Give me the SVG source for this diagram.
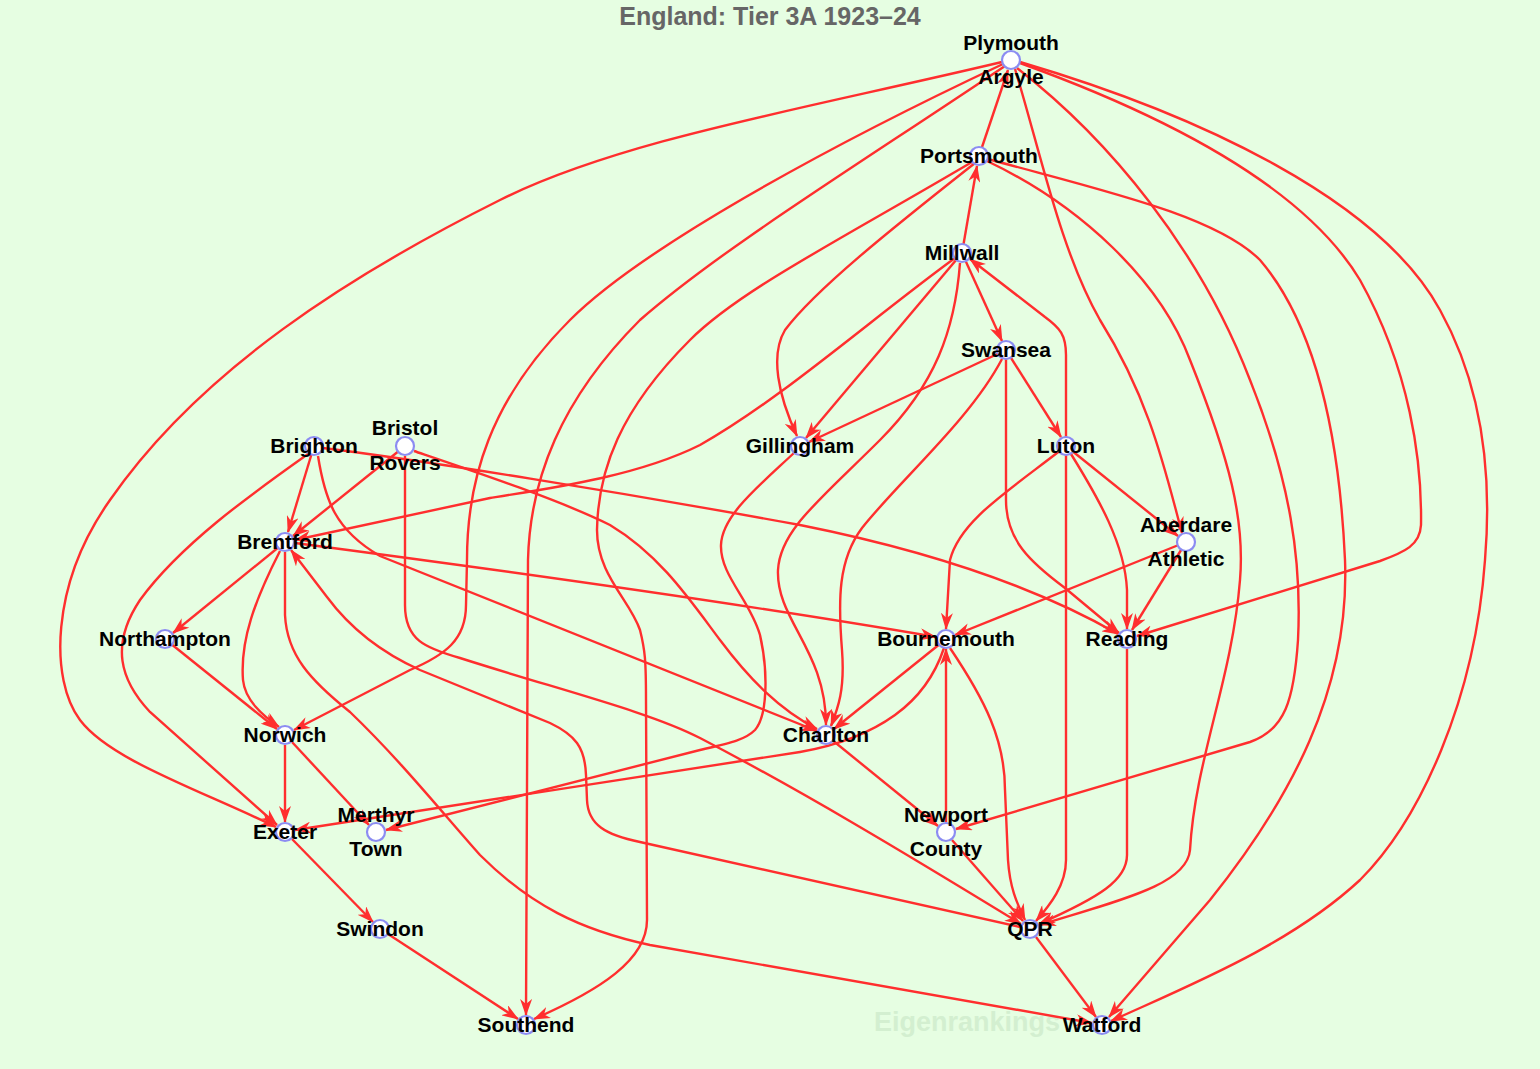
<svg xmlns="http://www.w3.org/2000/svg" width="1540" height="1069" viewBox="0 0 1540 1069">
<defs>
<style>
.e{fill:none;stroke:#ff2e2e;stroke-width:2.4;marker-end:url(#ah)}
.n{fill:#ffffff;stroke:#8c8cf2;stroke-width:2.2}
.l{font-family:"Liberation Sans",Arial,sans-serif;font-weight:bold;font-size:21px;fill:#000;text-anchor:middle}
.t{font-family:"Liberation Sans",Arial,sans-serif;font-weight:bold;font-size:25px;fill:#666;text-anchor:middle}
.w{font-family:"Liberation Sans",Arial,sans-serif;font-weight:bold;font-size:27px;fill:#d3efd0}
</style>
<marker id="ah" markerUnits="userSpaceOnUse" markerWidth="17" markerHeight="12" refX="16" refY="6" orient="auto">
<path d="M0,0 L17,6 L0,12 L5,6 z" fill="#ff2e2e"/>
</marker>
</defs>
<rect x="0" y="0" width="1540" height="1069" fill="#e6fee2"/>
<text class="t" x="770" y="25">England: Tier 3A 1923–24</text>
<text class="w" x="874" y="1031">Eigenrankings</text>
<g id="edges">
<path class="e" d="M979,156 L1008,70"/>
<path class="e" d="M962,253 L977,166"/>
<path class="e" d="M962,253 L1002,341"/>
<path class="e" d="M1066,437 L1066,355 C1066,335 1060,328 1045,317 L970,259"/>
<path class="e" d="M1006,350 L1061,437"/>
<path class="e" d="M1006,350 L809,442"/>
<path class="e" d="M962,253 L806,438"/>
<path class="e" d="M975,163 C890,230 815,290 785,330 C770,355 778,395 797,436"/>
<path class="e" d="M1066,446 C1010,490 960,520 950,560 L946,629"/>
<path class="e" d="M1066,446 L1178,536"/>
<path class="e" d="M1066,446 C1100,500 1125,545 1127,590 L1127,629"/>
<path class="e" d="M1066,446 L1066,860 C1066,885 1050,905 1036,921"/>
<path class="e" d="M1186,542 L1132,630"/>
<path class="e" d="M1186,542 L955,635"/>
<path class="e" d="M1006,350 L1006,500 C1006,540 1030,562 1065,588 L1119,633"/>
<path class="e" d="M1015,69 C1040,150 1060,250 1100,320 C1150,400 1165,470 1182,533"/>
<path class="e" d="M1020,63 C1150,110 1300,180 1360,280 C1410,370 1422,460 1421,525 C1420,545 1405,552 1380,561 L1137,636"/>
<path class="e" d="M1020,62 C1200,115 1380,200 1440,310 C1490,400 1490,500 1485,560 C1475,700 1420,820 1360,880 C1290,945 1190,985 1111,1021"/>
<path class="e" d="M988,159 C1100,190 1215,215 1260,260 C1320,330 1340,450 1345,560 C1350,690 1290,800 1210,900 L1109,1017"/>
<path class="e" d="M1017,68 C1110,140 1200,250 1250,380 C1290,480 1302,560 1298,640 C1294,700 1285,730 1250,742 L956,829"/>
<path class="e" d="M987,161 C1080,205 1160,280 1190,360 C1230,460 1245,520 1240,580 C1232,680 1195,760 1190,850 C1187,885 1120,900 1040,925"/>
<path class="e" d="M950,648 C985,700 1005,740 1005,790 L1008,860 C1010,890 1018,905 1025,920"/>
<path class="e" d="M952,840 L1023,921"/>
<path class="e" d="M826,735 L938,826"/>
<path class="e" d="M946,822 L946,649"/>
<path class="e" d="M946,639 L834,729"/>
<path class="e" d="M944,648 C935,675 920,697 895,715 C870,733 840,745 800,752 L295,830"/>
<path class="e" d="M960,263 C955,330 935,385 880,440 C820,500 780,530 778,570 C776,620 826,650 826,725"/>
<path class="e" d="M1002,359 C970,420 900,480 862,528 C838,560 838,600 842,650 C845,690 838,708 831,726"/>
<path class="e" d="M318,456 C325,500 335,530 380,556 L817,731"/>
<path class="e" d="M414,451 C470,470 560,500 610,525 C660,555 690,600 720,640 C750,680 780,710 817,729"/>
<path class="e" d="M323,448 C420,460 620,492 800,525 C950,555 1050,595 1118,634"/>
<path class="e" d="M314,446 L288,532"/>
<path class="e" d="M405,446 L293,536"/>
<path class="e" d="M955,258 C870,320 780,400 700,445 C640,475 560,487 490,498 L295,540"/>
<path class="e" d="M1020,927 L640,842 C606,835 588,825 587,800 L586,775 C585,747 575,735 550,723 L420,670 C380,652 350,628 327,597 L291,550"/>
<path class="e" d="M405,456 L405,605 C405,640 425,648 460,658 C560,690 650,712 700,738 C800,790 900,850 1021,924"/>
<path class="e" d="M295,543 C500,570 750,605 936,637"/>
<path class="e" d="M285,542 L173,633"/>
<path class="e" d="M280,551 C255,600 240,640 243,680 C245,700 262,715 279,727"/>
<path class="e" d="M285,552 L285,615 C287,655 310,680 350,712 C400,760 440,810 480,855 C530,905 580,930 650,945 L1092,1023"/>
<path class="e" d="M165,639 L277,729"/>
<path class="e" d="M1003,64 C820,150 640,250 570,320 C490,400 467,480 467,560 L466,605 C466,640 445,655 410,670 L294,730"/>
<path class="e" d="M285,745 L285,822"/>
<path class="e" d="M292,742 L369,825"/>
<path class="e" d="M308,454 C250,495 180,545 140,600 C110,645 120,680 150,712 L277,825"/>
<path class="e" d="M1002,62 C800,110 620,140 500,200 C350,275 200,370 110,500 C50,585 50,680 80,720 C110,760 200,790 276,827"/>
<path class="e" d="M795,452 C760,485 722,515 721,545 C720,575 750,600 760,635 C768,670 768,715 755,730 C745,740 730,743 700,750 L386,830"/>
<path class="e" d="M292,839 L373,922"/>
<path class="e" d="M388,934 L518,1019"/>
<path class="e" d="M1005,66 C850,170 720,250 640,320 C560,400 530,480 528,560 L526,1015"/>
<path class="e" d="M972,162 C840,240 740,290 690,340 C620,410 598,470 597,530 C597,575 630,600 640,630 C645,650 646,660 646,700 L647,920 C647,960 600,990 534,1019"/>
<path class="e" d="M1036,937 L1096,1017"/>
<path class="e" d="M1127,649 L1127,855 C1127,880 1100,897 1039,924"/>
</g>
<g id="n-plymouth"><circle class="n" cx="1011" cy="60" r="9"/><text class="l" x="1011" y="50">Plymouth</text><text class="l" x="1011" y="84">Argyle</text></g>
<g id="n-portsmouth"><circle class="n" cx="979" cy="156" r="9"/><text class="l" x="979" y="163">Portsmouth</text></g>
<g id="n-millwall"><circle class="n" cx="962" cy="253" r="9"/><text class="l" x="962" y="260">Millwall</text></g>
<g id="n-swansea"><circle class="n" cx="1006" cy="350" r="9"/><text class="l" x="1006" y="357">Swansea</text></g>
<g id="n-gillingham"><circle class="n" cx="800" cy="446" r="9"/><text class="l" x="800" y="453">Gillingham</text></g>
<g id="n-luton"><circle class="n" cx="1066" cy="446" r="9"/><text class="l" x="1066" y="453">Luton</text></g>
<g id="n-brighton"><circle class="n" cx="314" cy="446" r="9"/><text class="l" x="314" y="453">Brighton</text></g>
<g id="n-bristol"><circle class="n" cx="405" cy="446" r="9"/><text class="l" x="405" y="435">Bristol</text><text class="l" x="405" y="470">Rovers</text></g>
<g id="n-brentford"><circle class="n" cx="285" cy="542" r="9"/><text class="l" x="285" y="549">Brentford</text></g>
<g id="n-aberdare"><circle class="n" cx="1186" cy="542" r="9"/><text class="l" x="1186" y="532">Aberdare</text><text class="l" x="1186" y="566">Athletic</text></g>
<g id="n-northampton"><circle class="n" cx="165" cy="639" r="9"/><text class="l" x="165" y="646">Northampton</text></g>
<g id="n-bournemouth"><circle class="n" cx="946" cy="639" r="9"/><text class="l" x="946" y="646">Bournemouth</text></g>
<g id="n-reading"><circle class="n" cx="1127" cy="639" r="9"/><text class="l" x="1127" y="646">Reading</text></g>
<g id="n-norwich"><circle class="n" cx="285" cy="735" r="9"/><text class="l" x="285" y="742">Norwich</text></g>
<g id="n-charlton"><circle class="n" cx="826" cy="735" r="9"/><text class="l" x="826" y="742">Charlton</text></g>
<g id="n-exeter"><circle class="n" cx="285" cy="832" r="9"/><text class="l" x="285" y="839">Exeter</text></g>
<g id="n-merthyr"><circle class="n" cx="376" cy="832" r="9"/><text class="l" x="376" y="822">Merthyr</text><text class="l" x="376" y="856">Town</text></g>
<g id="n-newport"><circle class="n" cx="946" cy="832" r="9"/><text class="l" x="946" y="822">Newport</text><text class="l" x="946" y="856">County</text></g>
<g id="n-swindon"><circle class="n" cx="380" cy="929" r="9"/><text class="l" x="380" y="936">Swindon</text></g>
<g id="n-qpr"><circle class="n" cx="1030" cy="929" r="9"/><text class="l" x="1030" y="936">QPR</text></g>
<g id="n-southend"><circle class="n" cx="526" cy="1025" r="9"/><text class="l" x="526" y="1032">Southend</text></g>
<g id="n-watford"><circle class="n" cx="1102" cy="1025" r="9"/><text class="l" x="1102" y="1032">Watford</text></g>
</svg>
